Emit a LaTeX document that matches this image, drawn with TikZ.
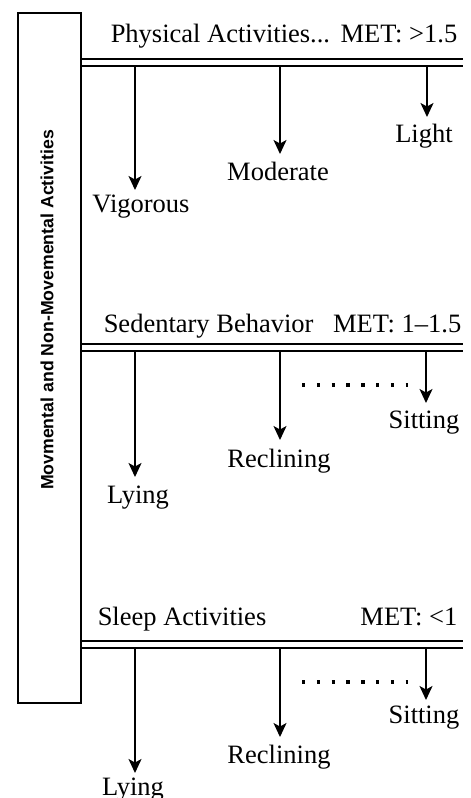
\documentclass[tikz,border=0pt]{standalone}
\usepackage{fontspec}
\setmainfont{Liberation Serif}
\newfontfamily\sansb{Liberation Sans}
\usetikzlibrary{arrows.meta}
\begin{document}
\begin{tikzpicture}[x=1pt,y=-1pt, line width=1.5pt,
  lbl/.style={font=\fontsize{26.5}{30}\selectfont, inner sep=0pt, anchor=base},
  arr/.style={-{Stealth[length=14pt,width=13pt,inset=3.5pt]}},
  dotsline/.style={line width=3.3pt, dash pattern=on 3.3pt off 11.5pt},
  frame/.style={draw, minimum width=63pt, minimum height=690pt, inner sep=0pt, anchor=north west}]
\useasboundingbox (0,0) rectangle (471,798);

% left box
\node[frame] (box) at (17,12) {};
\node[rotate=90, font=\sansb\bfseries\fontsize{17.7}{20}\selectfont, inner sep=0pt] (boxlbl) at (47,310) {Movmental and Non-Movemental Activities};

% ---------- Physical activities ----------
\node[lbl, anchor=base west] (t1a) at (110,42) {Physical Activities...};
\node[lbl, anchor=base east] (t1b) at (458,42) {MET: >1.5};
\coordinate (l1a) at (80,59); \coordinate (r1a) at (463,59);
\coordinate (l1b) at (80,66); \coordinate (r1b) at (463,66);
\draw (l1a) -- (r1a);
\draw (l1b) -- (r1b);
\coordinate (s11) at (135,66); \coordinate (e11) at (135,190);
\coordinate (s12) at (280,66); \coordinate (e12) at (280,154);
\coordinate (s13) at (427,66); \coordinate (e13) at (427,117);
\draw[arr] (s11) -- (e11);
\draw[arr] (s12) -- (e12);
\draw[arr] (s13) -- (e13);
\node[lbl] (vig) at (141,212) {Vigorous};
\node[lbl] (mod) at (278,180) {Moderate};
\node[lbl] (lig) at (424,142) {Light};

% ---------- Sedentary ----------
\node[lbl, anchor=base west] (t2a) at (103,332) {Sedentary Behavior};
\node[lbl, anchor=base east] (t2b) at (462,332) {MET: 1\textendash1.5};
\coordinate (l2a) at (80,344); \coordinate (r2a) at (463,344);
\coordinate (l2b) at (80,351); \coordinate (r2b) at (463,351);
\draw (l2a) -- (r2a);
\draw (l2b) -- (r2b);
\coordinate (s21) at (135,351); \coordinate (e21) at (135,477);
\coordinate (s22) at (280,351); \coordinate (e22) at (280,440);
\coordinate (s23) at (426,351); \coordinate (e23) at (426,403);
\draw[arr] (s21) -- (e21);
\draw[arr] (s22) -- (e22);
\draw[arr] (s23) -- (e23);
\coordinate (d2a) at (302,385); \coordinate (d2b) at (408,385);
\draw[dotsline] (d2a) -- (d2b);
\node[lbl] (ly2) at (138,503) {Lying};
\node[lbl] (re2) at (279,467) {Reclining};
\node[lbl] (si2) at (424,428) {Sitting};

% ---------- Sleep ----------
\node[lbl, anchor=base west] (t3a) at (97,625) {Sleep Activities};
\node[lbl, anchor=base east] (t3b) at (458,625) {MET: <1};
\coordinate (l3a) at (80,641); \coordinate (r3a) at (463,641);
\coordinate (l3b) at (80,648); \coordinate (r3b) at (463,648);
\draw (l3a) -- (r3a);
\draw (l3b) -- (r3b);
\coordinate (s31) at (135,648); \coordinate (e31) at (135,773);
\coordinate (s32) at (280,648); \coordinate (e32) at (280,737);
\coordinate (s33) at (426,648); \coordinate (e33) at (426,700);
\draw[arr] (s31) -- (e31);
\draw[arr] (s32) -- (e32);
\draw[arr] (s33) -- (e33);
\coordinate (d3a) at (302,682); \coordinate (d3b) at (408,682);
\draw[dotsline] (d3a) -- (d3b);
\node[lbl] (ly3) at (133,795) {Lying};
\node[lbl] (re3) at (279,763) {Reclining};
\node[lbl] (si3) at (424,723) {Sitting};
\end{tikzpicture}
\end{document}
